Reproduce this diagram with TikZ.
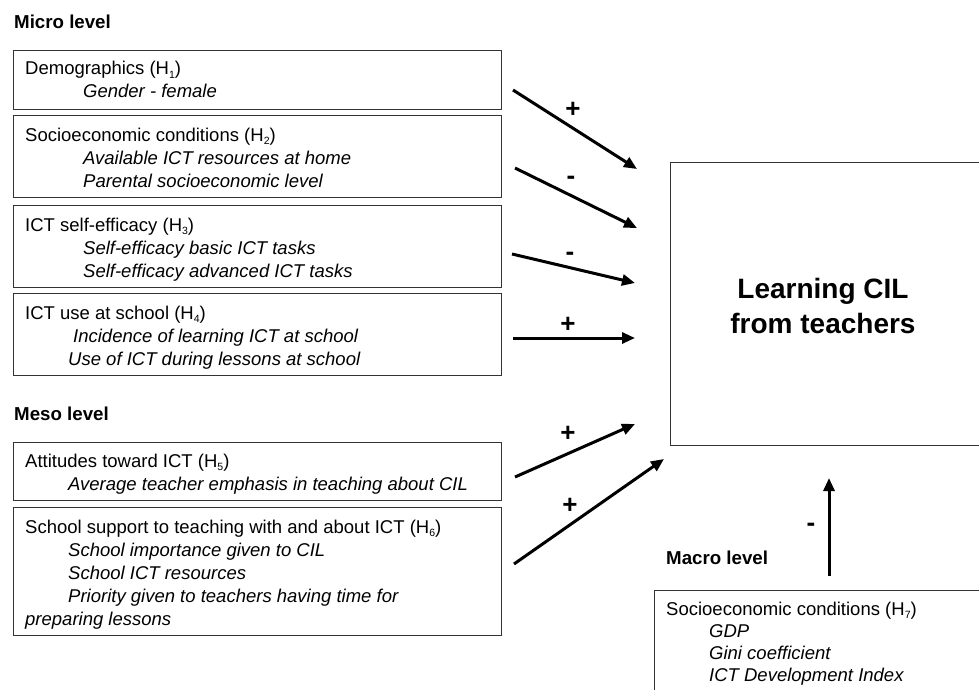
\documentclass[tikz,border=0pt]{standalone}
\usepackage{fontspec}
\setmainfont{Liberation Sans}
\usetikzlibrary{arrows.meta}
\newcommand\hsub[1]{\raisebox{-3.5pt}{\fontsize{10.5}{10}\selectfont\upshape #1}}
\begin{document}
\begin{tikzpicture}[x=1pt,y=-1pt,
  box/.style={draw=black!80, line width=0.9pt, inner sep=0pt, anchor=north west},
  txt/.style={anchor=base west, inner sep=0pt, font=\fontsize{18.5}{22}\selectfont},
  itx/.style={anchor=base west, inner sep=0pt, font=\fontsize{18.5}{22}\selectfont\itshape},
  lvl/.style={anchor=base west, inner sep=0pt, font=\fontsize{18.7}{22}\selectfont\bfseries},
  sign/.style={inner sep=0pt, font=\fontsize{26}{28}\selectfont\bfseries},
  arr/.style={line width=3pt, -{Triangle[length=13pt,width=11pt]}}]
\useasboundingbox (0,0) rectangle (979,690);
\clip (0,0) rectangle (979,690);

% level labels
\node[lvl] (micro) at (14,29) {Micro level};
\node[lvl] (meso) at (14,420) {Meso level};
\node[lvl] (macro) at (666,564) {Macro level};

% micro boxes
\node[box, minimum width=488pt, minimum height=59pt] (b1) at (13,50) {};
\node[txt] (b1t) at (25,75) {Demographics (H\hsub{1})};
\node[itx] (b1a) at (83,98) {Gender - female};

\node[box, minimum width=488pt, minimum height=82pt] (b2) at (13,115) {};
\node[txt] (b2t) at (25,141) {Socioeconomic conditions (H\hsub{2})};
\node[itx] (b2a) at (83,164) {Available ICT resources at home};
\node[itx] (b2b) at (83,187) {Parental socioeconomic level};

\node[box, minimum width=488pt, minimum height=82pt] (b3) at (13,205) {};
\node[txt] (b3t) at (25,231) {ICT self-efficacy (H\hsub{3})};
\node[itx] (b3a) at (83,254) {Self-efficacy basic ICT tasks};
\node[itx] (b3b) at (83,277) {Self-efficacy advanced ICT tasks};

\node[box, minimum width=488pt, minimum height=82pt] (b4) at (13,293) {};
\node[txt] (b4t) at (25,319) {ICT use at school (H\hsub{4})};
\node[itx] (b4a) at (73,342) {Incidence of learning ICT at school};
\node[itx] (b4b) at (68,365) {Use of ICT during lessons at school};

% meso boxes
\node[box, minimum width=488pt, minimum height=58pt] (b5) at (13,442) {};
\node[txt] (b5t) at (25,467) {Attitudes toward ICT (H\hsub{5})};
\node[itx] (b5a) at (68,490) {Average teacher emphasis in teaching about CIL};

\node[box, minimum width=488pt, minimum height=128pt] (b6) at (13,507) {};
\node[txt] (b6t) at (25,533) {School support to teaching with and about ICT (H\hsub{6})};
\node[itx] (b6a) at (68,556) {School importance given to CIL};
\node[itx] (b6b) at (68,579) {School ICT resources};
\node[itx] (b6c) at (68,602) {Priority given to teachers having time for};
\node[itx] (b6d) at (25,625) {preparing lessons};

% outcome box
\node[box, minimum width=330pt, minimum height=283pt] (learn) at (670,162) {};
\node[inner sep=0pt, align=center, font=\fontsize{28}{35}\selectfont\bfseries] (learnt) at (823,306) {Learning CIL\\from teachers};

% macro box
\node[box, minimum width=340pt, minimum height=120pt] (mbox) at (654,590) {};
\node[txt] (mt) at (666,615) {Socioeconomic conditions (H\hsub{7})};
\node[itx] (ma) at (709,637) {GDP};
\node[itx] (mb) at (709,659) {Gini coefficient};
\node[itx] (mc) at (709,681) {ICT Development Index};

% arrow end points
\coordinate (s1) at (513,90);  \coordinate (e1) at (637,169);
\coordinate (s2) at (515,168); \coordinate (e2) at (637,228);
\coordinate (s3) at (512,254); \coordinate (e3) at (635,283);
\coordinate (s4) at (513,338); \coordinate (e4) at (635,338);
\coordinate (s5) at (515,477); \coordinate (e5) at (635,424);
\coordinate (s6) at (514,564); \coordinate (e6) at (664,459);
\coordinate (s7) at (829,576); \coordinate (e7) at (829,478);

\draw[arr] (s1) -- (e1);
\draw[arr] (s2) -- (e2);
\draw[arr] (s3) -- (e3);
\draw[arr] (s4) -- (e4);
\draw[arr] (s5) -- (e5);
\draw[arr] (s6) -- (e6);
\draw[arr] (s7) -- (e7);

\node[sign] (p1) at (573,110) {+};
\node[sign] (m2) at (571,180) {-};
\node[sign] (m3) at (570,256) {-};
\node[sign] (p4) at (568,325) {+};
\node[sign] (p5) at (568,434) {+};
\node[sign] (p6) at (570,506) {+};
\node[sign] (m7) at (811,527) {-};
\end{tikzpicture}
\end{document}
